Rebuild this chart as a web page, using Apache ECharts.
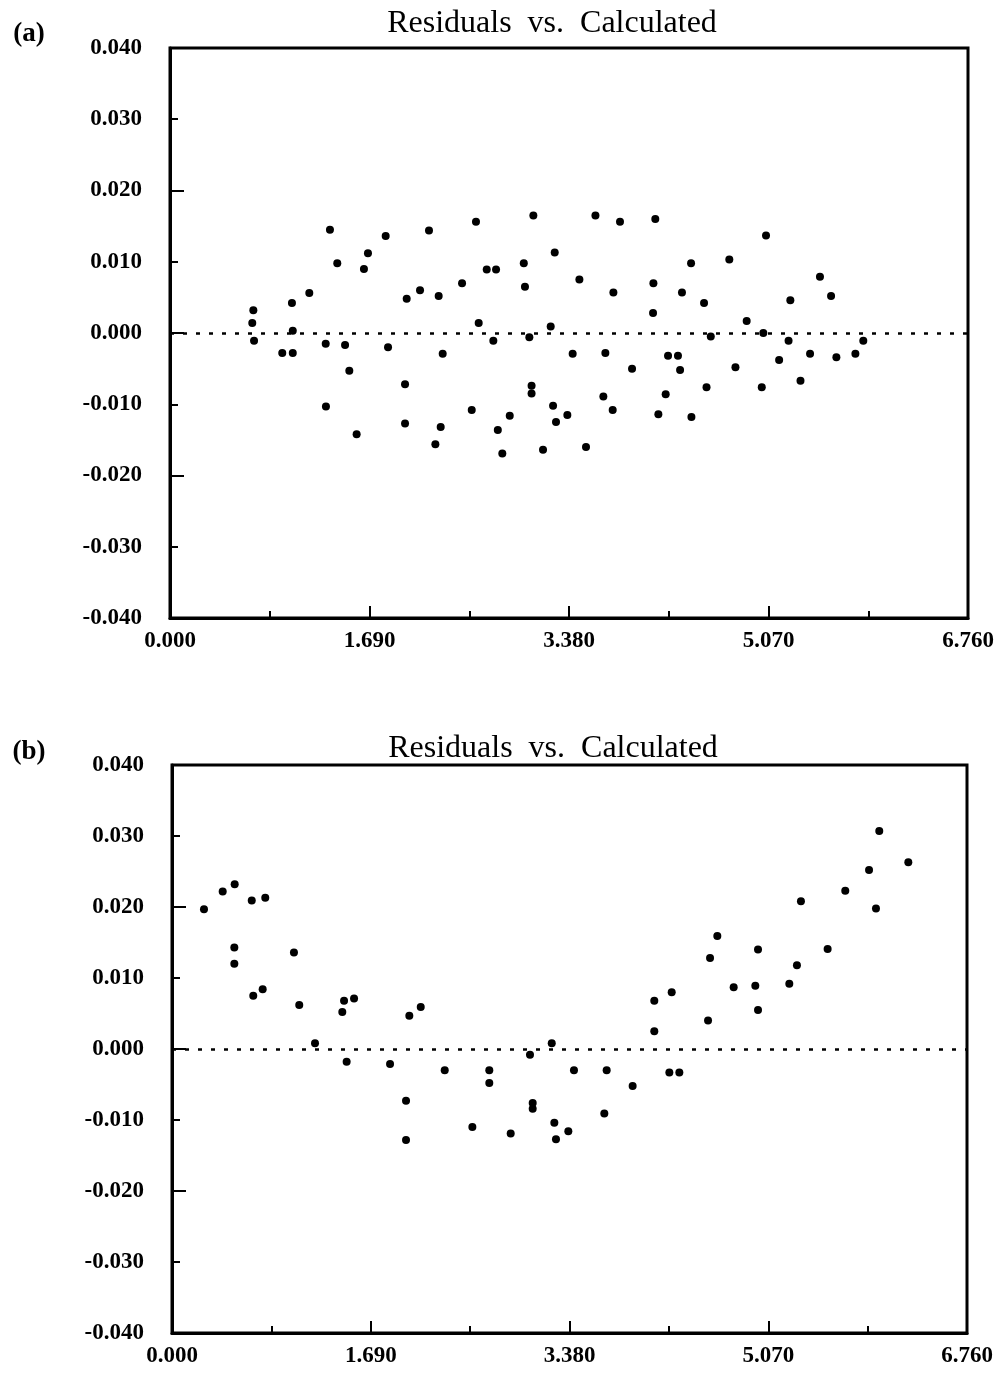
<!DOCTYPE html>
<html>
<head>
<meta charset="utf-8">
<script src="https://cdn.jsdelivr.net/npm/echarts@6/dist/echarts.min.js"></script>
<style>
html,body{margin:0;padding:0;background:#fff;}
#chart{width:1003px;height:1374px;}
</style>
</head>
<body>
<div id="chart"></div>
<script>
// Panel (a) data
const aX = [0.706,0.697,0.712,1.033,1.180,1.040,0.951,1.040,1.355,1.417,1.643,1.677,1.827,1.319,1.483,1.519,1.321,1.581,1.847,2.005,2.118,2.194,2.276,1.991,1.991,2.248,2.293,2.310,2.474,2.592,2.615,2.556,2.683,2.762,2.739,2.777,2.815,2.878,2.997,3.007,3.078,3.044,3.063,3.063,3.160,3.225,3.259,3.245,3.270,3.366,3.411,3.468,3.524,3.604,3.671,3.688,3.750,3.756,3.812,3.914,4.092,4.095,4.111,4.137,4.199,4.219,4.303,4.321,4.337,4.414,4.417,4.524,4.545,4.581,4.738,4.790,4.885,5.013,5.026,5.049,5.160,5.240,5.255,5.341,5.422,5.506,5.600,5.645,5.806,5.873];
const aY = [0.0032,0.0014,-0.0011,0.0042,0.0056,0.0003,-0.0028,-0.0028,0.0145,0.0098,0.0090,0.0112,0.0136,-0.0015,-0.0017,-0.0053,-0.0103,-0.0142,-0.0020,0.0048,0.0060,0.0144,0.0052,-0.0072,-0.0127,-0.0156,-0.0132,-0.0029,0.0070,0.0156,0.0014,-0.0108,0.0089,0.0089,-0.0011,-0.0136,-0.0169,-0.0116,0.0098,0.0065,0.0165,-0.0006,-0.0074,-0.0085,-0.0164,0.0009,0.0113,-0.0102,-0.0125,-0.0115,-0.0029,0.0075,-0.0160,0.0165,-0.0089,-0.0028,-0.0108,0.0057,0.0156,-0.0050,0.0028,0.0070,0.0160,-0.0114,-0.0086,-0.0032,-0.0032,-0.0052,0.0057,0.0098,-0.0118,0.0042,-0.0076,-0.0005,0.0103,-0.0048,0.0017,-0.0076,0.0000,0.0137,-0.0038,-0.0011,0.0046,-0.0067,-0.0029,0.0079,0.0052,-0.0034,-0.0029,-0.0011];
// Panel (b) data
const bX = [0.272,0.431,0.533,0.530,0.530,0.678,0.691,0.771,0.793,1.037,1.082,1.216,1.448,1.463,1.485,1.548,1.854,1.990,1.990,2.018,2.115,2.319,2.554,2.698,2.698,2.880,3.044,3.067,3.067,3.229,3.251,3.265,3.370,3.418,3.676,3.696,3.917,4.101,4.101,4.229,4.249,4.314,4.558,4.575,4.637,4.776,4.960,4.983,4.983,5.249,5.314,5.348,5.575,5.725,5.927,5.986,6.014,6.261];
const bY = [0.0197,0.0222,0.0232,0.0143,0.0120,0.0209,0.0075,0.0084,0.0213,0.0136,0.0062,0.0008,0.0052,0.0068,-0.0018,0.0071,-0.0021,-0.0073,-0.0128,0.0047,0.0059,-0.0030,-0.0110,-0.0030,-0.0048,-0.0119,-0.0008,-0.0076,-0.0084,0.0008,-0.0104,-0.0127,-0.0116,-0.0030,-0.0091,-0.0030,-0.0052,0.0025,0.0068,-0.0033,0.0080,-0.0033,0.0040,0.0128,0.0159,0.0087,0.0089,0.0140,0.0055,0.0092,0.0118,0.0208,0.0141,0.0223,0.0252,0.0198,0.0307,0.0263];
// Axis settings
const xTicks = [0, 1.69, 3.38, 5.07, 6.76];
const yTicks = [-0.04, -0.03, -0.02, -0.01, 0, 0.01, 0.02, 0.03, 0.04];
const titleText = 'Residuals  vs.  Calculated';
const panelLabels = ['(a)', '(b)'];

const SERIF = '"Liberation Serif", "Times New Roman", serif';
const lblStyle = {fontFamily: SERIF, fontWeight: 'bold', fontSize: 23, color: '#000'};

function xAxisDef(gi) {
  return {
    type: 'value', gridIndex: gi,
    min: xTicks[0], max: xTicks[xTicks.length - 1], interval: xTicks[1] - xTicks[0],
    axisLine: {show: true, onZero: false, lineStyle: {color: '#000', width: 3}},
    axisTick: {show: true, inside: true, length: 12, lineStyle: {color: '#000', width: 2}},
    minorTick: {show: true, splitNumber: 2, length: 7, lineStyle: {color: '#000', width: 2}},
    splitLine: {show: false},
    axisLabel: Object.assign({margin: 12, formatter: v => v.toFixed(3)}, lblStyle)
  };
}
function yAxisDef(gi) {
  return {
    type: 'value', gridIndex: gi, position: 'left', offset: 0,
    min: yTicks[0], max: yTicks[yTicks.length - 1], interval: yTicks[1] - yTicks[0],
    axisLine: {show: true, onZero: false, lineStyle: {color: '#000', width: 3}},
    axisTick: {show: true, inside: true, length: 8, lineStyle: {color: '#000', width: 2}},
    splitLine: {show: false},
    axisLabel: Object.assign({margin: 28, formatter: v => v.toFixed(3)}, lblStyle)
  };
}
function yAxisLong(gi) {
  return {
    type: 'value', gridIndex: gi, position: 'left', offset: 0,
    min: yTicks[0], max: yTicks[yTicks.length - 1], interval: 2 * (yTicks[1] - yTicks[0]),
    axisLine: {show: false, onZero: false},
    axisTick: {show: true, inside: true, length: 14, lineStyle: {color: '#000', width: 2}},
    splitLine: {show: false},
    axisLabel: {show: false}
  };
}
function scatter(xs, ys, xi, yi) {
  return {
    type: 'scatter', xAxisIndex: xi, yAxisIndex: yi,
    symbol: 'circle', symbolSize: 8,
    itemStyle: {color: '#000', opacity: 1},
    data: xs.map((x, i) => [x, ys[i]]),
    markLine: {
      silent: true, symbol: ['none', 'none'],
      label: {show: false},
      lineStyle: {color: '#000', width: 2.5, type: [4, 9], opacity: 1},
      data: [{yAxis: 0}]
    },
    z: 3
  };
}

const chart = echarts.init(document.getElementById('chart'), null, {renderer: 'canvas'});
chart.setOption({
  backgroundColor: '#fff',
  animation: false,
  grid: [
    {left: 170, top: 48, width: 798, height: 570, show: true, borderColor: '#000', borderWidth: 3, containLabel: false},
    {left: 172, top: 765, width: 795, height: 568, show: true, borderColor: '#000', borderWidth: 3, containLabel: false}
  ],
  xAxis: [xAxisDef(0), xAxisDef(1)],
  yAxis: [yAxisDef(0), yAxisLong(0), yAxisDef(1), yAxisLong(1)],
  series: [scatter(aX, aY, 0, 0), scatter(bX, bY, 1, 2)],
  graphic: [
    {type: 'text', x: 552, y: 24, style: {text: titleText, font: '32px ' + SERIF, fill: '#000', align: 'center', verticalAlign: 'middle', textAlign: 'center', textVerticalAlign: 'middle'}},
    {type: 'text', x: 553, y: 749, style: {text: titleText, font: '32px ' + SERIF, fill: '#000', align: 'center', verticalAlign: 'middle', textAlign: 'center', textVerticalAlign: 'middle'}},
    {type: 'text', x: 29, y: 34, style: {text: panelLabels[0], font: 'bold 27px ' + SERIF, fill: '#000', align: 'center', verticalAlign: 'middle', textAlign: 'center', textVerticalAlign: 'middle'}},
    {type: 'text', x: 29, y: 752, style: {text: panelLabels[1], font: 'bold 27px ' + SERIF, fill: '#000', align: 'center', verticalAlign: 'middle', textAlign: 'center', textVerticalAlign: 'middle'}}
  ]
});
</script>
</body>
</html>
